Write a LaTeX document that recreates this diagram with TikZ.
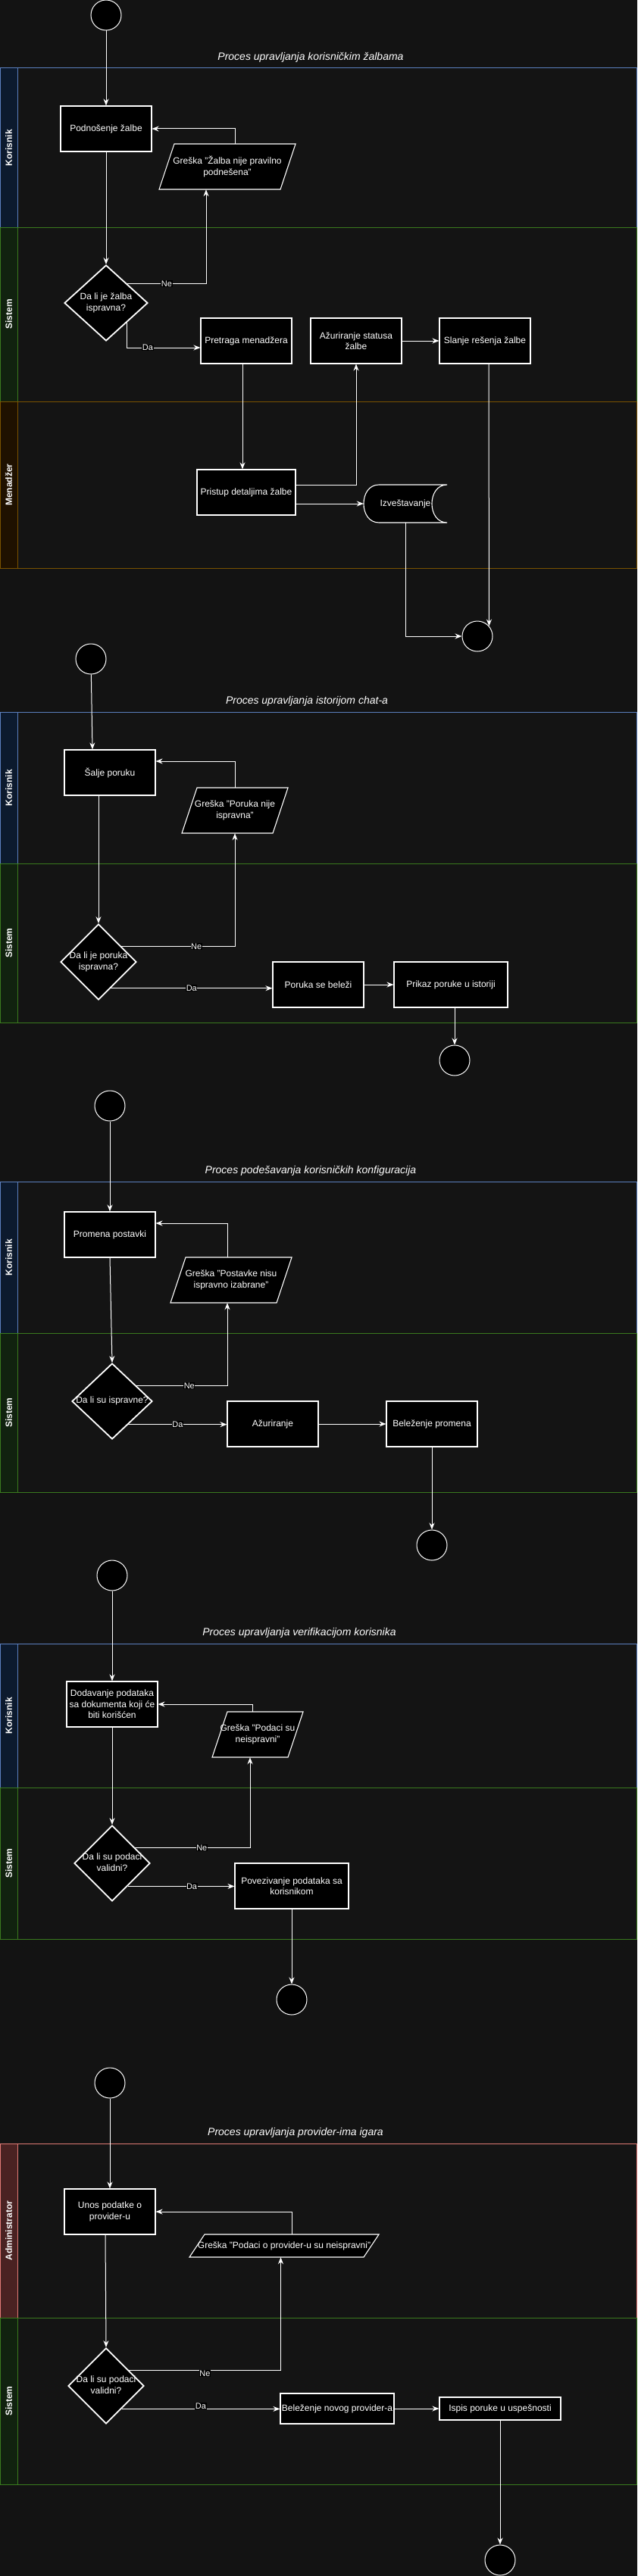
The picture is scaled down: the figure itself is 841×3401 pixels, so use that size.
\documentclass[tikz,border=0pt]{standalone}
\usepackage{fontspec}
\setmainfont{Liberation Sans}
\usetikzlibrary{shapes.geometric,arrows.meta}
\definecolor{bgc}{HTML}{131313}
\definecolor{laneb}{HTML}{141414}
\definecolor{kstroke}{HTML}{5B7FBE}
\definecolor{kfill}{HTML}{0C1A2E}
\definecolor{sstroke}{HTML}{3A7A1E}
\definecolor{sfill}{HTML}{11220F}
\definecolor{mstroke}{HTML}{7A5200}
\definecolor{mfill}{HTML}{1F1100}
\definecolor{astroke}{HTML}{E07A75}
\definecolor{afill}{HTML}{4A2222}
\newcommand{\dtext}[1]{\smash{\makebox[0pt]{\raisebox{-3pt}{\begin{tabular}{@{}c@{}}#1\end{tabular}}}}}
\newcommand{\mkpara}[6]{%
  \filldraw[parashape] ({#2-#4/2+20},{#3-#5/2}) -- ({#2+#4/2},{#3-#5/2}) -- ({#2+#4/2-20},{#3+#5/2}) -- ({#2-#4/2},{#3+#5/2}) -- cycle;
  \node[txt, minimum width=#4pt, minimum height=#5pt] (#1) at (#2,#3) {#6};}
\newcommand{\mklane}[6]{%
  \draw[draw=#4, fill=laneb, line width=1pt] (0,#2) rectangle (840,#3);
  \draw[draw=#4, fill=#5, line width=1pt] (0,#2) rectangle (23,#3);
  \node[lanelbl] (#1) at (11.5,{(#2+#3)/2}) {#6};}
\tikzset{
  txt/.style={text=white, font=\fontsize{12pt}{14.5pt}\selectfont, align=center, inner sep=1pt},
  box/.style={txt, rectangle, draw=white, fill=black, line width=1.1pt},
  dec/.style={text=white, font=\fontsize{12pt}{14.5pt}\selectfont, diamond, aspect=1, draw=white, fill=black, line width=1.8pt, inner sep=0pt},
  term/.style={circle, draw=white, fill=black, line width=1pt, minimum size=40pt, inner sep=0pt},
  parashape/.style={draw=white, fill=black, line width=1.1pt},
  arr/.style={draw=white, line width=1pt, -{Stealth[length=9pt,width=7pt,inset=3pt]}},
  lbl/.style={fill=black, text=white, font=\fontsize{11pt}{13pt}\selectfont, inner sep=0.5pt},
  ttl/.style={text=white, font=\fontsize{14pt}{16pt}\selectfont\itshape},
  lanelbl/.style={text=white, font=\fontsize{12pt}{14pt}\selectfont\bfseries, rotate=90},
}
\begin{document}
\begin{tikzpicture}[x=1pt,y=-1pt]
\useasboundingbox (0,0) rectangle (841,3401);
\fill[bgc] (0,0) rectangle (841,3401);

% ---------- Section 1 ----------
\mklane{k1}{90}{300}{kstroke}{kfill}{Korisnik}
\mklane{si1}{300}{530}{sstroke}{sfill}{Sistem}
\mklane{m1}{530}{750}{mstroke}{mfill}{Menadžer}
\node[term] (s1) at (140,20) {};
\node[ttl] (t1) at (410,76) {Proces upravljanja korisničkim žalbama};
\node[box, minimum width=120pt, minimum height=60pt] (b1) at (140,170) {Podnošenje žalbe};
\mkpara{e1}{300}{220}{180}{60}{Greška "Žalba nije pravilno\\podnešena"}
\node[dec, minimum width=110pt, minimum height=100pt] (d1) at (140,400) {\dtext{Da li je žalba\\ispravna?}};
\node[box, minimum width=120pt, minimum height=60pt] (pr) at (325,450) {Pretraga menadžera};
\node[box, minimum width=120pt, minimum height=60pt] (az) at (470,450) {Ažuriranje statusa\\žalbe};
\node[box, minimum width=120pt, minimum height=60pt] (sl) at (640,450) {Slanje rešenja žalbe};
\node[box, minimum width=130pt, minimum height=60pt] (pd) at (325,650) {Pristup detaljima žalbe};
\filldraw[parashape] (500,640) -- (590,640) .. controls (563.3,640) and (563.3,690) .. (590,690) -- (500,690) .. controls (473.3,690) and (473.3,640) .. cycle;
\node[txt, minimum width=110pt, minimum height=50pt, inner sep=0pt] (iz) at (535,665) {Izveštavanje};
\node[term] (f1) at (630,840) {};

\draw[arr] (s1) -- (b1);
\draw[arr] ([xshift=10pt]e1.north) |- (b1.east);
\draw[arr] (b1) -- (d1);
\draw[arr] (d1.north east) -| node[lbl, pos=0.25] {Ne} ([xshift=-28pt]e1.south);
\draw[arr] (d1.south east) |- node[lbl, pos=0.64] {Da} ([yshift=-9pt]pr.west);
\draw[arr] ([xshift=-5pt]pr.south) -- ([xshift=-5pt]pd.north);
\draw[arr] ([yshift=10pt]pd.east) -| (az.south);
\draw[arr] ([yshift=-15pt]pd.east) -- (iz.west);
\draw[arr] (az) -- (sl);
\draw[arr] (iz.south) |- (f1.west);
\draw[arr] ([xshift=5pt]sl.south) -- (f1.41);

% ---------- Section 2 ----------
\mklane{k2}{940}{1140}{kstroke}{kfill}{Korisnik}
\mklane{si2}{1140}{1350}{sstroke}{sfill}{Sistem}
\node[term] (s2) at (120,870) {};
\node[ttl] (t2) at (405,926) {Proces upravljanja istorijom chat-a};
\node[box, minimum width=120pt, minimum height=60pt] (b2) at (145,1020) {Šalje poruku};
\mkpara{e2}{310}{1070}{140}{60}{Greška "Poruka nije\\ispravna"}
\node[dec, minimum width=100pt, minimum height=100pt] (d2) at (130,1270) {\dtext{Da li je poruka\\ispravna?}};
\node[box, minimum width=120pt, minimum height=60pt] (b3) at (420,1300) {Poruka se beleži};
\node[box, minimum width=150pt, minimum height=60pt] (b4) at (595,1300) {Prikaz poruke u istoriji};
\node[term] (f2) at (600,1400) {};

\draw[arr] (s2) -- ([xshift=-23pt]b2.north);
\draw[arr] (e2.north) |- ([yshift=15pt]b2.east);
\draw[arr] ([xshift=-15pt]b2.south) -- (d2.north);
\draw[arr] (d2.34) -| node[lbl, pos=0.33] {Ne} (e2.south);
\draw[arr] (d2.295) -- node[lbl] {Da} (d2.295 -| b3.west);
\draw[arr] (b3) -- (b4);
\draw[arr] ([xshift=5pt]b4.south) -- (f2.north);

% ---------- Section 3 ----------
\mklane{k3}{1560}{1760}{kstroke}{kfill}{Korisnik}
\mklane{si3}{1760}{1970}{sstroke}{sfill}{Sistem}
\node[term] (s3) at (145,1460) {};
\node[ttl] (t3) at (410,1546) {Proces podešavanja korisničkih konfiguracija};
\node[box, minimum width=120pt, minimum height=60pt] (b5) at (145,1630) {Promena postavki};
\mkpara{e3}{305}{1690}{160}{60}{Greška "Postavke nisu\\ispravno izabrane"}
\node[dec, minimum width=106pt, minimum height=100pt] (d3) at (148,1850) {\dtext{Da li su ispravne?}};
\node[box, minimum width=120pt, minimum height=60pt] (b6) at (360,1880) {Ažuriranje};
\node[box, minimum width=120pt, minimum height=60pt] (b7) at (570,1880) {Beleženje promena};
\node[term] (f3) at (570,2040) {};

\draw[arr] (s3) -- (b5);
\draw[arr] ([xshift=-5pt]e3.north) |- ([yshift=15pt]b5.east);
\draw[arr] (b5.south) -- (d3.north);
\draw[arr] (d3.32) -| node[lbl, pos=0.29] {Ne} ([xshift=-5pt]e3.south);
\draw[arr] (d3.305) -- node[lbl] {Da} (d3.305 -| b6.west);
\draw[arr] (b6) -- (b7);
\draw[arr] (b7) -- (f3);

% ---------- Section 4 ----------
\mklane{k4}{2170}{2360}{kstroke}{kfill}{Korisnik}
\mklane{si4}{2360}{2560}{sstroke}{sfill}{Sistem}
\node[term] (s4) at (148,2080) {};
\node[ttl] (t4) at (395,2156) {Proces upravljanja verifikacijom korisnika};
\node[box, minimum width=120pt, minimum height=60pt] (b8) at (148,2250) {Dodavanje podataka\\sa dokumenta koji će\\biti korišćen};
\mkpara{e4}{340}{2290}{120}{60}{Greška "Podaci su\\neispravni"}
\node[dec, minimum width=100pt, minimum height=100pt] (d4) at (148,2460) {\dtext{Da li su podaci\\validni?}};
\node[box, minimum width=150pt, minimum height=60pt] (b9) at (385,2490) {Povezivanje podataka sa\\korisnikom};
\node[term] (f4) at (385,2640) {};

\draw[arr] (s4) -- (b8);
\draw[arr] ([xshift=-6.5pt]e4.north) |- (b8.east);
\draw[arr] (b8) -- (d4);
\draw[arr] (d4.34) -| node[lbl, pos=0.29] {Ne} ([xshift=-10pt]e4.south);
\draw[arr] (d4.304) -- node[lbl, pos=0.6] {Da} (d4.304 -| b9.west);
\draw[arr] (b9) -- (f4);

% ---------- Section 5 ----------
\mklane{a5}{2830}{3060}{astroke}{afill}{Administrator}
\mklane{si5}{3060}{3280}{sstroke}{sfill}{Sistem}
\node[term] (s5) at (145,2750) {};
\node[ttl] (t5) at (390,2816) {Proces upravljanja provider-ima igara};
\node[box, minimum width=120pt, minimum height=60pt] (b10) at (145,2920) {Unos podatke o\\provider-u};
\mkpara{e5}{375}{2965}{250}{30}{Greška "Podaci o provider-u su neispravni"}
\node[dec, minimum width=100pt, minimum height=100pt] (d5) at (140,3150) {\dtext{Da li su podaci\\validni?}};
\node[box, minimum width=150pt, minimum height=40pt] (b11) at (445,3180) {Beleženje novog provider-a};
\node[box, minimum width=160pt, minimum height=30pt] (b12) at (660,3180) {Ispis poruke u uspešnosti};
\node[term] (f5) at (660,3380) {};

\draw[arr] (s5) -- (b10);
\draw[arr] ([xshift=10pt]e5.north) |- (b10.east);
\draw[arr] ([xshift=-6pt]b10.south) -- (d5.north);
\draw[arr] (d5.34) -| node[lbl, pos=0.25, yshift=-4pt] {Ne} ([xshift=-4.5pt]e5.south);
\draw[arr] (d5.304) -- node[lbl, yshift=4pt] {Da} (d5.304 -| b11.west);
\draw[arr] (b11) -- (b12);
\draw[arr] (b12) -- (f5);
\end{tikzpicture}
\end{document}
